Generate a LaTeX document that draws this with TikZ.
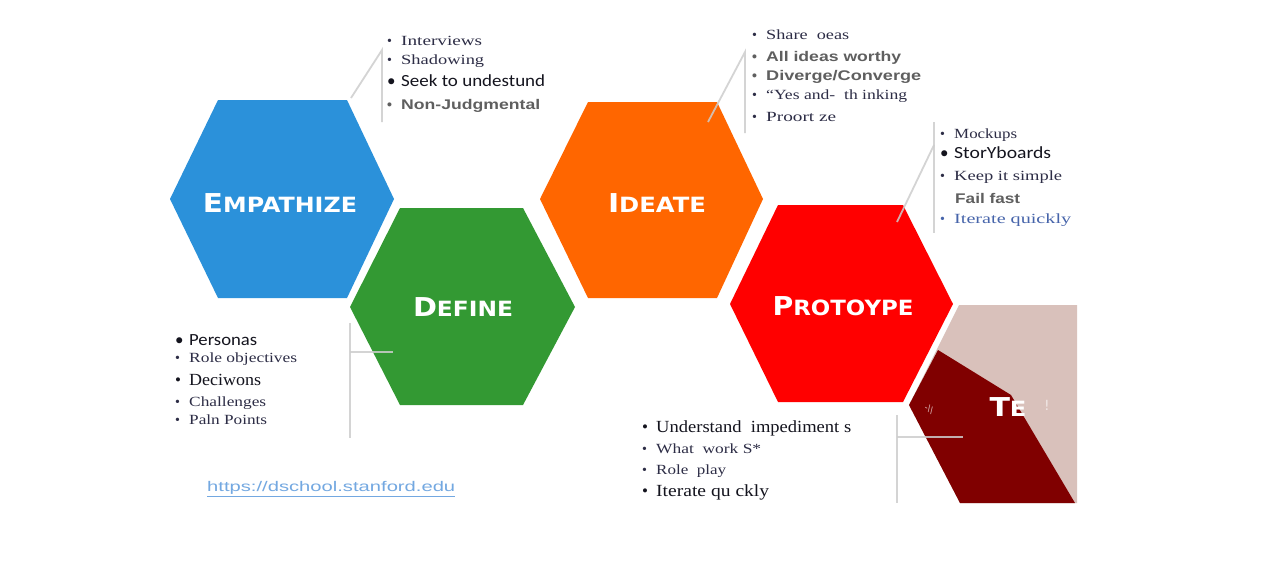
\documentclass[tikz,border=0pt]{standalone}
\usepackage{fontspec}
\usepackage{graphicx}
\setmainfont{Liberation Serif}
\newfontfamily\labfont{DejaVu Sans}
\newfontfamily\blurfont{Liberation Sans}
\newfontfamily\calfont{Carlito}
\definecolor{empblue}{RGB}{43,145,218}
\definecolor{defgreen}{RGB}{51,153,51}
\definecolor{ideorange}{RGB}{255,102,0}
\definecolor{prored}{RGB}{255,0,0}
\definecolor{testdark}{RGB}{128,0,0}
\definecolor{testbeige}{RGB}{217,193,187}
\definecolor{calloutgray}{RGB}{205,205,205}
\definecolor{txtdark}{RGB}{45,45,70}
\definecolor{txtblack}{RGB}{20,20,30}
\definecolor{txtblur}{RGB}{95,95,95}
\definecolor{txtblue}{RGB}{70,100,170}
\definecolor{linkblue}{RGB}{115,168,225}
\newcommand\fw[2]{\resizebox{#1pt}{\height}{#2}}
\newcommand\bl{\makebox[14pt][l]{\textbullet}}
\newcommand\hsc[2]{{\fontsize{26}{26}\selectfont #1}{\fontsize{21}{21}\selectfont #2}}
\tikzset{
  hexfill/.style={draw=none},
  item/.style={anchor=west, inner sep=0pt, text=txtdark, font=\fontsize{14}{14}\selectfont},
  bigitem/.style={item, text=txtblack, font=\fontsize{17}{17}\selectfont},
  calitem/.style={item, text=txtblack, font=\calfont\fontsize{17}{17}\selectfont},
  bluritem/.style={item, text=txtblur, font=\blurfont\bfseries\fontsize{14}{14}\selectfont},
  hexlabel/.style={text=white, inner sep=0pt, font=\labfont\bfseries},
  callout/.style={draw=calloutgray, line width=1.8pt, opacity=0.85},
}
\begin{document}
\begin{tikzpicture}[x=1pt,y=-1pt]
\useasboundingbox[fill=white] (0,0) rectangle (1280,560);

% hexagons
\fill[empblue]   (170,199) -- (218,100) -- (347,100) -- (394,199) -- (347,298) -- (218,298) -- cycle;
\fill[defgreen]  (350,307) -- (400,208) -- (523,208) -- (575,307) -- (523,405) -- (400,405) -- cycle;
\fill[ideorange] (540,199) -- (588,102) -- (717,102) -- (763,199) -- (717,298) -- (588,298) -- cycle;
\fill[prored]    (730,304) -- (778,205) -- (903,205) -- (953,304) -- (903,402) -- (778,402) -- cycle;
\fill[testbeige] (959,305) -- (1077,305) -- (1077,503) -- (960,503) -- (909,405) -- cycle;
\fill[testdark]  (938,350) -- (1011,395) -- (1075,503) -- (960,503) -- (909,405) -- cycle;

% hexagon labels
\node[hexlabel] (empl) at (280,203) {\fw{154}{\hsc{E}{MPATHIZE}}};
\node[hexlabel] (defl) at (463,307) {\fw{100}{\hsc{D}{EFINE}}};
\node[hexlabel] (idel) at (657,203) {\fw{98}{\hsc{I}{DEATE}}};
\node[hexlabel] (prol) at (843,306) {\fw{141}{\hsc{P}{ROTOYPE}}};
\node[hexlabel] (tesl) at (1008,407) {\fw{37}{\hsc{T}{E}}};
\node[hexlabel, opacity=0.6, font=\labfont\fontsize{14}{14}\selectfont] (tesm) at (1047,405) {!};
\node[hexlabel, opacity=0.7, font=\labfont\fontsize{9}{9}\selectfont, rotate=-30] (tesn) at (929,409) {-\textbackslash\textbackslash};

% callout connectors
\coordinate (ea) at (382,50);  \coordinate (eb) at (382,122); \coordinate (ec) at (351,98);
\coordinate (ia) at (745,52);  \coordinate (ib) at (745,133); \coordinate (ic) at (708,122);
\coordinate (pa) at (934,122); \coordinate (pb) at (934,233); \coordinate (pm) at (934,145); \coordinate (pc) at (897,222);
\coordinate (da) at (350,323); \coordinate (db) at (350,438); \coordinate (dm) at (350,352); \coordinate (dc) at (393,352);
\coordinate (ta) at (897,415); \coordinate (tb) at (897,503); \coordinate (tm) at (897,437); \coordinate (tc) at (963,437);
\draw[callout] (eb) -- (ea) -- (ec);
\draw[callout] (ib) -- (ia) -- (ic);
\draw[callout] (pa) -- (pb);
\draw[callout] (pm) -- (pc);
\draw[callout] (da) -- (db);
\draw[callout] (dm) -- (dc);
\draw[callout] (ta) -- (tb);
\draw[callout] (tm) -- (tc);

% Empathize list
\node[item]     (e1) at (387,41)  {\bl\fw{81}{Interviews}};
\node[item]     (e2) at (387,61)  {\bl\fw{83}{Shadowing}};
\node[calitem]  (e3) at (387,81)  {\bl\fw{144}{Seek to undestund}};
\node[bluritem] (e4) at (387,106) {\bl\fw{139}{Non-Judgmental}};

% Ideate list
\node[item]     (i1) at (752,35)  {\bl\fw{83}{Share\ \ oeas}};
\node[bluritem] (i2) at (752,58)  {\bl\fw{135}{All ideas worthy}};
\node[bluritem] (i3) at (752,77)  {\bl\fw{155}{Diverge/Converge}};
\node[item]     (i4) at (752,96)  {\bl\fw{141}{``Yes and-\ \ th inking}};
\node[item]     (i5) at (752,117) {\bl\fw{70}{Proort\ ze}};

% Prototype list
\node[item]     (p1) at (940,135) {\bl\fw{63}{Mockups}};
\node[calitem]  (p2) at (940,153) {\bl\fw{97}{StorYboards}};
\node[item]     (p3) at (940,177) {\bl\fw{108}{Keep it simple}};
\node[bluritem] (p4) at (955,198) {\fw{65}{Fail fast}};
\node[item, text=txtblue] (p5) at (940,220) {\bl\fw{117}{Iterate quickly}};

% Define list
\node[calitem]  (d1) at (175,340) {\bl\fw{68}{Personas}};
\node[item]     (d2) at (175,359) {\bl\fw{108}{Role objectives}};
\node[bigitem]  (d3) at (175,380) {\bl\fw{72}{Deciwons}};
\node[item]     (d4) at (175,403) {\bl\fw{77}{Challenges}};
\node[item]     (d5) at (175,420) {\bl\fw{78}{Paln Points}};

% Test list
\node[bigitem]  (t1) at (642,428) {\bl\fw{195}{Understand\ \ impediment s}};
\node[item]     (t2) at (642,449) {\bl\fw{105}{What\ \ work S*}};
\node[item]     (t3) at (642,471) {\bl\fw{70}{Role\ \ play}};
\node[bigitem]  (t4) at (642,492) {\bl\fw{113}{Iterate qu ckly}};

% link
\node[item, text=linkblue, font=\blurfont\fontsize{14}{14}\selectfont] (url) at (207,489) {\fw{248}{\underline{https://dschool.stanford.edu}}};
\end{tikzpicture}
\end{document}
